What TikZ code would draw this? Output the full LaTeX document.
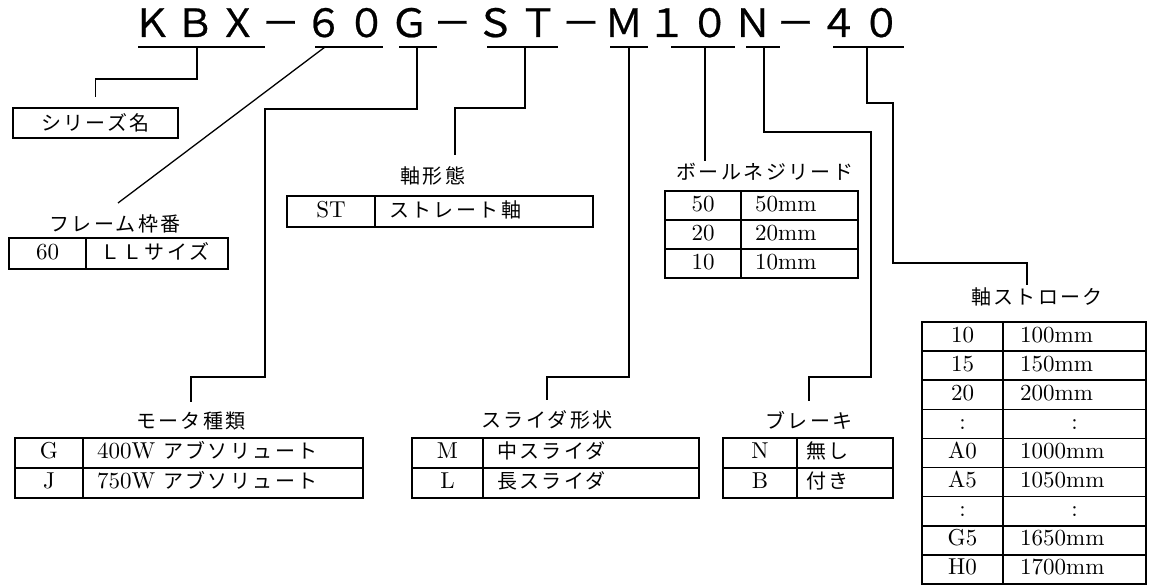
\documentclass[tikz,border=0pt]{standalone}
\usepackage{fontspec}
\setmainfont{lmroman10-regular.otf}
\newfontfamily\jp{Noto Sans CJK JP}[LetterSpace=12]
\newfontfamily\ttl{Noto Sans CJK JP}[FakeBold=0.6]
\newcommand\J[1]{{\jp\fontsize{20}{22}\selectfont #1}}
\def\ind{14}
\newcommand\trow[8]{%
  \node[cellbox, minimum width=#4pt, minimum height=#6pt] (#1a) at (#2,#3) {};
  \node[cellbox, minimum width=#5pt, minimum height=#6pt] (#1b) at (#2+#4,#3) {};
  \node[ctxt] (#1at) at (#1a.center) {#7};
  \node[ctxt, anchor=west] (#1bt) at ([xshift=\ind pt]#1b.west) {#8};
}
\newcommand\trowc[8]{%
  \node[cellbox, minimum width=#4pt, minimum height=#6pt] (#1a) at (#2,#3) {};
  \node[cellbox, minimum width=#5pt, minimum height=#6pt] (#1b) at (#2+#4,#3) {};
  \node[ctxt] (#1at) at (#1a.center) {#7};
  \node[ctxt] (#1bt) at (#1b.center) {#8};
}
\begin{document}
\begin{tikzpicture}[x=1pt,y=-1pt,
  ttlc/.style={font=\ttl\fontsize{39}{40}\selectfont, anchor=base, inner sep=0pt},
  uline/.style={line width=1.3pt},
  conn/.style={line width=1.3pt},
  cellbox/.style={draw, line width=1.6pt, anchor=north west, inner sep=0pt, outer sep=0pt},
  ctxt/.style={font=\fontsize{23}{26}\selectfont, inner sep=0pt, text height=15pt, text depth=4pt},
  lbl/.style={font=\jp\fontsize{20}{22}\selectfont, inner sep=0pt},
]
\fill[white] (0,0) rectangle (1151,586);
\useasboundingbox (0,0) rectangle (1151,586);

% title
\foreach \c [count=\i from 0] in {Ｋ,Ｂ,Ｘ,－,６,０,Ｇ,－,Ｓ,Ｔ,－,Ｍ,１,０,Ｎ,－,４,０}
  \node[ttlc] (t\i) at (152+42.9*\i,37) {\c};

% underlines
\draw[uline] (138,47) -- (265,47);
\draw[uline] (315,47) -- (383,47);
\draw[uline] (399,47) -- (437,47);
\draw[uline] (487,47) -- (558,47);
\draw[uline] (610,47) -- (648,47);
\draw[uline] (671,47) -- (735,47);
\draw[uline] (746,47) -- (780,47);
\draw[uline] (833,47) -- (904,47);

\coordinate (uKBX) at (197,47);
\coordinate (u60) at (325,47);
\coordinate (uG) at (417,47);
\coordinate (uST) at (525,47);
\coordinate (uM) at (629,47);
\coordinate (u10) at (705,47);
\coordinate (uN) at (764,47);
\coordinate (u40) at (867,47);

% series box
\node[draw, line width=1.6pt, minimum width=165pt, minimum height=30pt, inner sep=0pt,
      font=\jp\fontsize{20}{22}\selectfont] (sbox) at (95.5,123) {シリーズ名};

% labels
\node[lbl] (lLL) at (115,224) {フレーム枠番};
\node[lbl] (lST) at (433,176) {軸形態};
\node[lbl] (lBall) at (765,172) {ボールネジリード};
\node[lbl] (lStroke) at (1037,297) {軸ストローク};
\node[lbl] (lMot) at (191,421) {モータ種類};
\node[lbl] (lSl) at (547,420) {スライダ形状};
\node[lbl] (lBr) at (809,420) {ブレーキ};

% tables
\trow{ll}{9}{238}{77}{142}{31}{60}{\J{ＬＬサイズ}}
\trow{st}{287}{196}{88}{218}{31}{ST}{\J{ストレート軸}}
\trow{b1}{665}{191}{76}{117}{29}{50}{50mm}
\trow{b2}{665}{220}{76}{117}{29}{20}{20mm}
\trow{b3}{665}{249}{76}{117}{29}{10}{10mm}
\trow{m1}{15}{438}{68}{280}{30}{G}{400W \J{アブソリュート}}
\trow{m2}{15}{468}{68}{280}{30}{J}{750W \J{アブソリュート}}
\trow{s1}{412}{438}{71}{216}{30}{M}{\J{中スライダ}}
\trow{s2}{412}{468}{71}{216}{30}{L}{\J{長スライダ}}
\def\ind{9}
\trow{r1}{723}{438}{74}{96}{30}{N}{\J{無し}}
\trow{r2}{723}{468}{74}{96}{30}{B}{\J{付き}}
\def\ind{17}
\trow{k1}{922}{322}{81}{143}{29.1}{10}{100mm}
\trow{k2}{922}{351.1}{81}{143}{29.1}{15}{150mm}
\trow{k3}{922}{380.2}{81}{143}{29.1}{20}{200mm}
\trowc{k4}{922}{409.3}{81}{143}{29.1}{:}{:}
\trow{k5}{922}{438.4}{81}{143}{29.1}{A0}{1000mm}
\trow{k6}{922}{467.5}{81}{143}{29.1}{A5}{1050mm}
\trowc{k7}{922}{496.6}{81}{143}{29.1}{:}{:}
\trow{k8}{922}{525.7}{81}{143}{29.1}{G5}{1650mm}
\trow{k9}{922}{554.8}{81}{143}{29.1}{H0}{1700mm}

% connectors
\coordinate (e60) at (118,203);
\coordinate (eST) at (455,155);
\coordinate (e10) at (705,161);
\coordinate (e40) at (1027,285);
\draw[conn] (uKBX) -- ++(0,32) -| ([yshift=10pt]sbox.north);
\draw[conn] (u60) -- (e60);
\draw[conn] (uG) |- (265,109) |- (191,377) -- ([yshift=10pt]lMot.north);
\draw[conn] (uST) |- (455,108) -- (eST);
\draw[conn] (uM) |- (547,377) -- ([yshift=10pt]lSl.north);
\draw[conn] (u10) -- (e10);
\draw[conn] (uN) |- (871,132) |- (809,377) -- ([yshift=10pt]lBr.north);
\draw[conn] (u40) |- (893,103) |- (1027,263) -- (e40);
\end{tikzpicture}
\end{document}
